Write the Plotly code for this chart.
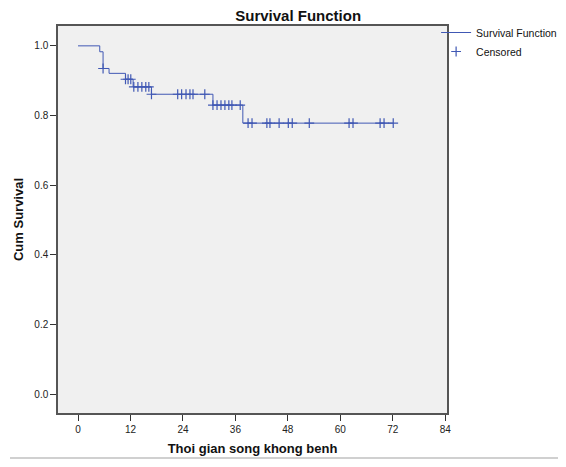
import numpy as np
import plotly.graph_objects as go

# Step curve (event times and survival after each event)
event_times = [0.0, 4.97, 5.73, 7.1, 10.86, 12.6, 16.8, 30.86, 37.7]
event_surv = [1.0, 0.983, 0.935, 0.921, 0.904, 0.882, 0.861, 0.830, 0.778]
last_time = 72.1

# Censored observations
censor_times = [5.73, 10.86, 11.45, 12.07, 12.76, 13.7, 14.6, 15.5, 16.2, 16.8,
                22.8, 23.7, 24.7, 25.6, 26.3, 29.0, 30.86, 31.8, 32.7, 33.6,
                34.5, 35.2, 37.1, 38.9, 39.8, 43.2, 43.9, 46.0, 48.1, 49.0,
                52.9, 62.0, 62.9, 69.1, 70.0, 72.1]

x_ticks = [0, 12, 24, 36, 48, 60, 72, 84]
y_ticks = [0.0, 0.2, 0.4, 0.6, 0.8, 1.0]

blue = "#4058B4"

curve_x = event_times + [last_time]
curve_y = event_surv + [event_surv[-1]]

et = np.array(event_times)
es = np.array(event_surv)
censor_surv = [es[np.searchsorted(et, t, side="right") - 1] for t in censor_times]

fig = go.Figure()
fig.add_trace(go.Scatter(
    x=curve_x, y=curve_y, mode="lines", line_shape="hv",
    line=dict(color=blue, width=1), name="Survival Function"))
fig.add_trace(go.Scatter(
    x=censor_times, y=censor_surv, mode="markers", name="Censored",
    marker=dict(symbol="cross-thin", size=7, line=dict(color=blue, width=1.2), color=blue)))

axis_font = dict(family="Liberation Sans, Arial, sans-serif", size=10, color="#222")
title_font = dict(family="Liberation Sans, Arial, sans-serif", size=13, color="#111")

# page has an 8px body margin, so the figure is placed at (8, 8)
fig.update_layout(
    width=558, height=459,
    margin=dict(l=50, r=119, t=18, b=54, autoexpand=False),
    paper_bgcolor="white", plot_bgcolor="#F0F0F0",
    title=dict(text="<b>Survival Function</b>", x=0.52, xref="container",
               xanchor="center", y=1 - 8 / 459, yanchor="middle",
               font=dict(family="Liberation Sans, Arial, sans-serif", size=15, color="#111")),
    showlegend=True,
    legend=dict(x=0.972, y=1 + 8 / 387, xanchor="left", yanchor="top", bgcolor="rgba(0,0,0,0)",
                font=dict(family="Liberation Sans, Arial, sans-serif", size=10.5, color="#111"),
                tracegroupgap=0, itemwidth=30),
    xaxis=dict(range=[-4.58, 84.4], tickvals=x_ticks, ticktext=[str(v) for v in x_ticks],
               ticks="outside", ticklen=6, tickcolor="#333", showgrid=False, zeroline=False,
               showline=True, linecolor="#555", linewidth=1.5, mirror=True,
               tickfont=axis_font,
               title=dict(text="<b>Thoi gian song khong benh</b>", font=title_font, standoff=10)),
    yaxis=dict(range=[-0.0545, 1.057], tickvals=y_ticks, ticktext=[f"{v:.1f}" for v in y_ticks],
               ticks="outside", ticklen=6, tickcolor="#333", showgrid=False, zeroline=False,
               showline=True, linecolor="#555", linewidth=1.5, mirror=True,
               tickfont=axis_font,
               title=dict(text="<b>Cum Survival</b>", font=title_font, standoff=8)),
    shapes=[dict(type="line", xref="paper", yref="paper",
                 x0=-48 / 389, x1=508 / 389, y0=-45 / 387, y1=-45 / 387,
                 line=dict(color="#C0C0C0", width=1.5))],
)

fig.write_html("out.html")
